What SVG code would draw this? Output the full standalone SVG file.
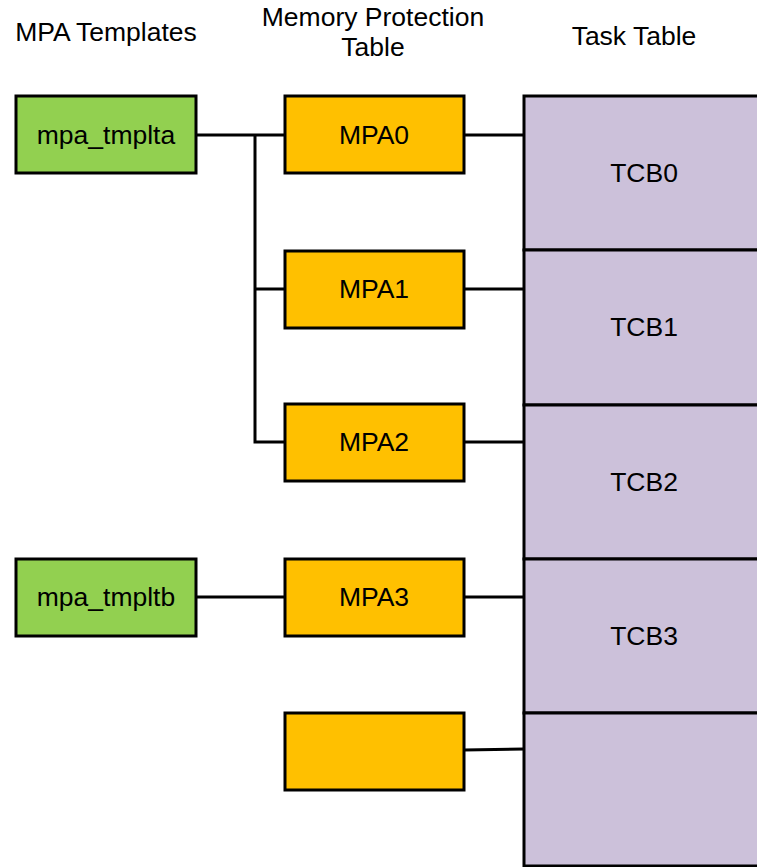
<svg xmlns="http://www.w3.org/2000/svg" width="757" height="867" viewBox="0 0 757 867">
<style>
text{font-family:"Liberation Sans",Arial,sans-serif;font-size:26.5px;fill:#000;text-anchor:middle}
.g{fill:#92D050;stroke:#000;stroke-width:3}
.o{fill:#FFC000;stroke:#000;stroke-width:3}
.t{fill:#CCC1DA;stroke:#000;stroke-width:3}
.c{fill:none;stroke:#000;stroke-width:3}
</style>
<rect width="757" height="867" fill="#fff"/>
<g id="headers">
<text x="106" y="41">MPA Templates</text>
<text x="373" y="26">Memory Protection</text>
<text x="373" y="56">Table</text>
<text x="634" y="45">Task Table</text>
</g>
<g id="connectors">
<path class="c" d="M196 135H284M255 135V442H284M255 289H284"/>
<path class="c" d="M464 135H524M464 289H524M464 442H524M464 597H524"/>
<path class="c" d="M196 597H284"/>
<path class="c" d="M464 750L524 749"/>
</g>
<g id="mpa_tmplta"><rect class="g" x="16" y="96" width="180" height="77"/><text x="106" y="144">mpa_tmplta</text></g>
<g id="mpa_tmpltb"><rect class="g" x="16" y="559" width="180" height="77"/><text x="106" y="606">mpa_tmpltb</text></g>
<g id="MPA0"><rect class="o" x="285" y="96" width="179" height="77"/><text x="374" y="144">MPA0</text></g>
<g id="MPA1"><rect class="o" x="285" y="251" width="179" height="77"/><text x="374" y="298">MPA1</text></g>
<g id="MPA2"><rect class="o" x="285" y="404" width="179" height="77"/><text x="374" y="451">MPA2</text></g>
<g id="MPA3"><rect class="o" x="285" y="559" width="179" height="77"/><text x="374" y="606">MPA3</text></g>
<g id="MPA4"><rect class="o" x="285" y="713" width="179" height="77"/></g>
<g id="TCB0"><rect class="t" x="524" y="96" width="240" height="154"/><text x="644" y="182">TCB0</text></g>
<g id="TCB1"><rect class="t" x="524" y="250" width="240" height="155"/><text x="644" y="336">TCB1</text></g>
<g id="TCB2"><rect class="t" x="524" y="405" width="240" height="154"/><text x="644" y="491">TCB2</text></g>
<g id="TCB3"><rect class="t" x="524" y="559" width="240" height="154"/><text x="644" y="645">TCB3</text></g>
<g id="TCB4"><rect class="t" x="524" y="713" width="240" height="153"/></g>
</svg>
